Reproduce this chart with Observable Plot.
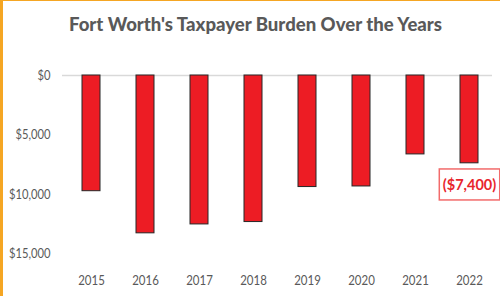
<!DOCTYPE html>
<html>
<head>
<meta charset="utf-8">
<script src="https://cdn.jsdelivr.net/npm/d3@7"></script>
<script src="https://cdn.jsdelivr.net/npm/@observablehq/plot@0.6"></script>
<style>
  html, body { margin: 0; padding: 0; background: #fff; }
  #wrap { position: relative; width: 500px; height: 296px; overflow: hidden; background: #fff; }
  #bl { position: absolute; left: 0; top: 0; width: 3px; height: 296px; background: #F5A623; }
  #bt { position: absolute; left: 0; top: 0; width: 500px; height: 1px; background: #F5A623; }
  #title { position: absolute; left: 69px; top: 10px; white-space: nowrap;
    font-family: Lato, "Open Sans", sans-serif; font-weight: 900;
    font-size: 18px; color: #595959; line-height: 28px; transform-origin: 0 0; }
  #chart { position: absolute; left: 0; top: 55px; }
</style>
</head>
<body>
<div id="wrap">
  <div id="title">Fort Worth's Taxpayer Burden Over the Years</div>
  <div id="chart"></div>
  <div id="bl"></div>
  <div id="bt"></div>
</div>
<script>
const years = ["2015", "2016", "2017", "2018", "2019", "2020", "2021", "2022"];
const burden = [-9750, -13300, -12550, -12350, -9400, -9350, -6650, -7400];
const yTicks = [0, -5000, -10000, -15000];
const calloutYear = "2022";
const calloutText = "($7,400)";

const data = years.map((y, i) => ({year: y, value: burden[i]}));
const callout = data.filter(d => d.year === calloutYear).map(d => ({...d, label: calloutText}));
const font = 'Lato, "Open Sans", sans-serif';

// fit title width to the reference (about 373px wide, from x=69)
const title = document.getElementById("title");
const tw = title.getBoundingClientRect().width;
title.style.transform = `scaleX(${373 / tw})`;

const plot = Plot.plot({
  width: 500,
  height: 241,
  marginTop: 20,
  marginBottom: 43,
  marginLeft: 62,
  marginRight: 3,
  style: { fontFamily: font, fontSize: "13px", color: "#595959", background: "transparent" },
  x: { domain: years, paddingInner: 0.667, paddingOuter: 0.333, label: null },
  y: { domain: [-15000, 0], label: null },
  marks: [
    Plot.ruleY([0], { stroke: "#d9d9d9", strokeWidth: 1.5, insetRight: 5 }),
    Plot.barY(data, { x: "year", y: "value", fill: "#ED1C24", stroke: "#262626", strokeWidth: 1 }),
    Plot.axisY({ ticks: yTicks, tickSize: 0, tickPadding: 12, fontSize: 14, fill: "#595959",
      tickFormat: d => "$" + d3.format(",")(Math.abs(d)), className: "yax" }),
    Plot.axisX({ tickSize: 0, tickPadding: 22, fontSize: 14, fill: "#595959", className: "xax" }),
    Plot.text(callout, { x: "year", y: "value", text: "label", dy: 22, fill: "#E8262C",
      fontWeight: "bold", fontSize: 14.5, className: "callout" })
  ]
});
document.getElementById("chart").appendChild(plot);

// narrow the glyphs a little, like the original's condensed typeface
function squeeze(sel, k) {
  plot.querySelectorAll(sel).forEach(t => {
    const w = t.getComputedTextLength();
    t.setAttribute("textLength", (w * k).toFixed(1));
    t.setAttribute("lengthAdjust", "spacingAndGlyphs");
  });
}
squeeze("g.yax text", 0.8);
squeeze("g.xax text", 0.82);

// draw a box around the callout text, sized from its rendered bounds
plot.querySelectorAll("g.callout text").forEach(t => {
  const b = t.getBBox();
  const ns = "http://www.w3.org/2000/svg";
  const r = document.createElementNS(ns, "rect");
  r.setAttribute("x", b.x - 3.5);
  r.setAttribute("y", b.y - 7);
  r.setAttribute("width", b.width + 7);
  r.setAttribute("height", b.height + 14);
  r.setAttribute("fill", "#fff");
  r.setAttribute("stroke", "#F26B6B");
  r.setAttribute("stroke-width", 1.5);
  const tr = t.getAttribute("transform");
  if (tr) r.setAttribute("transform", tr);
  t.parentNode.insertBefore(r, t);
});
</script>
</body>
</html>
